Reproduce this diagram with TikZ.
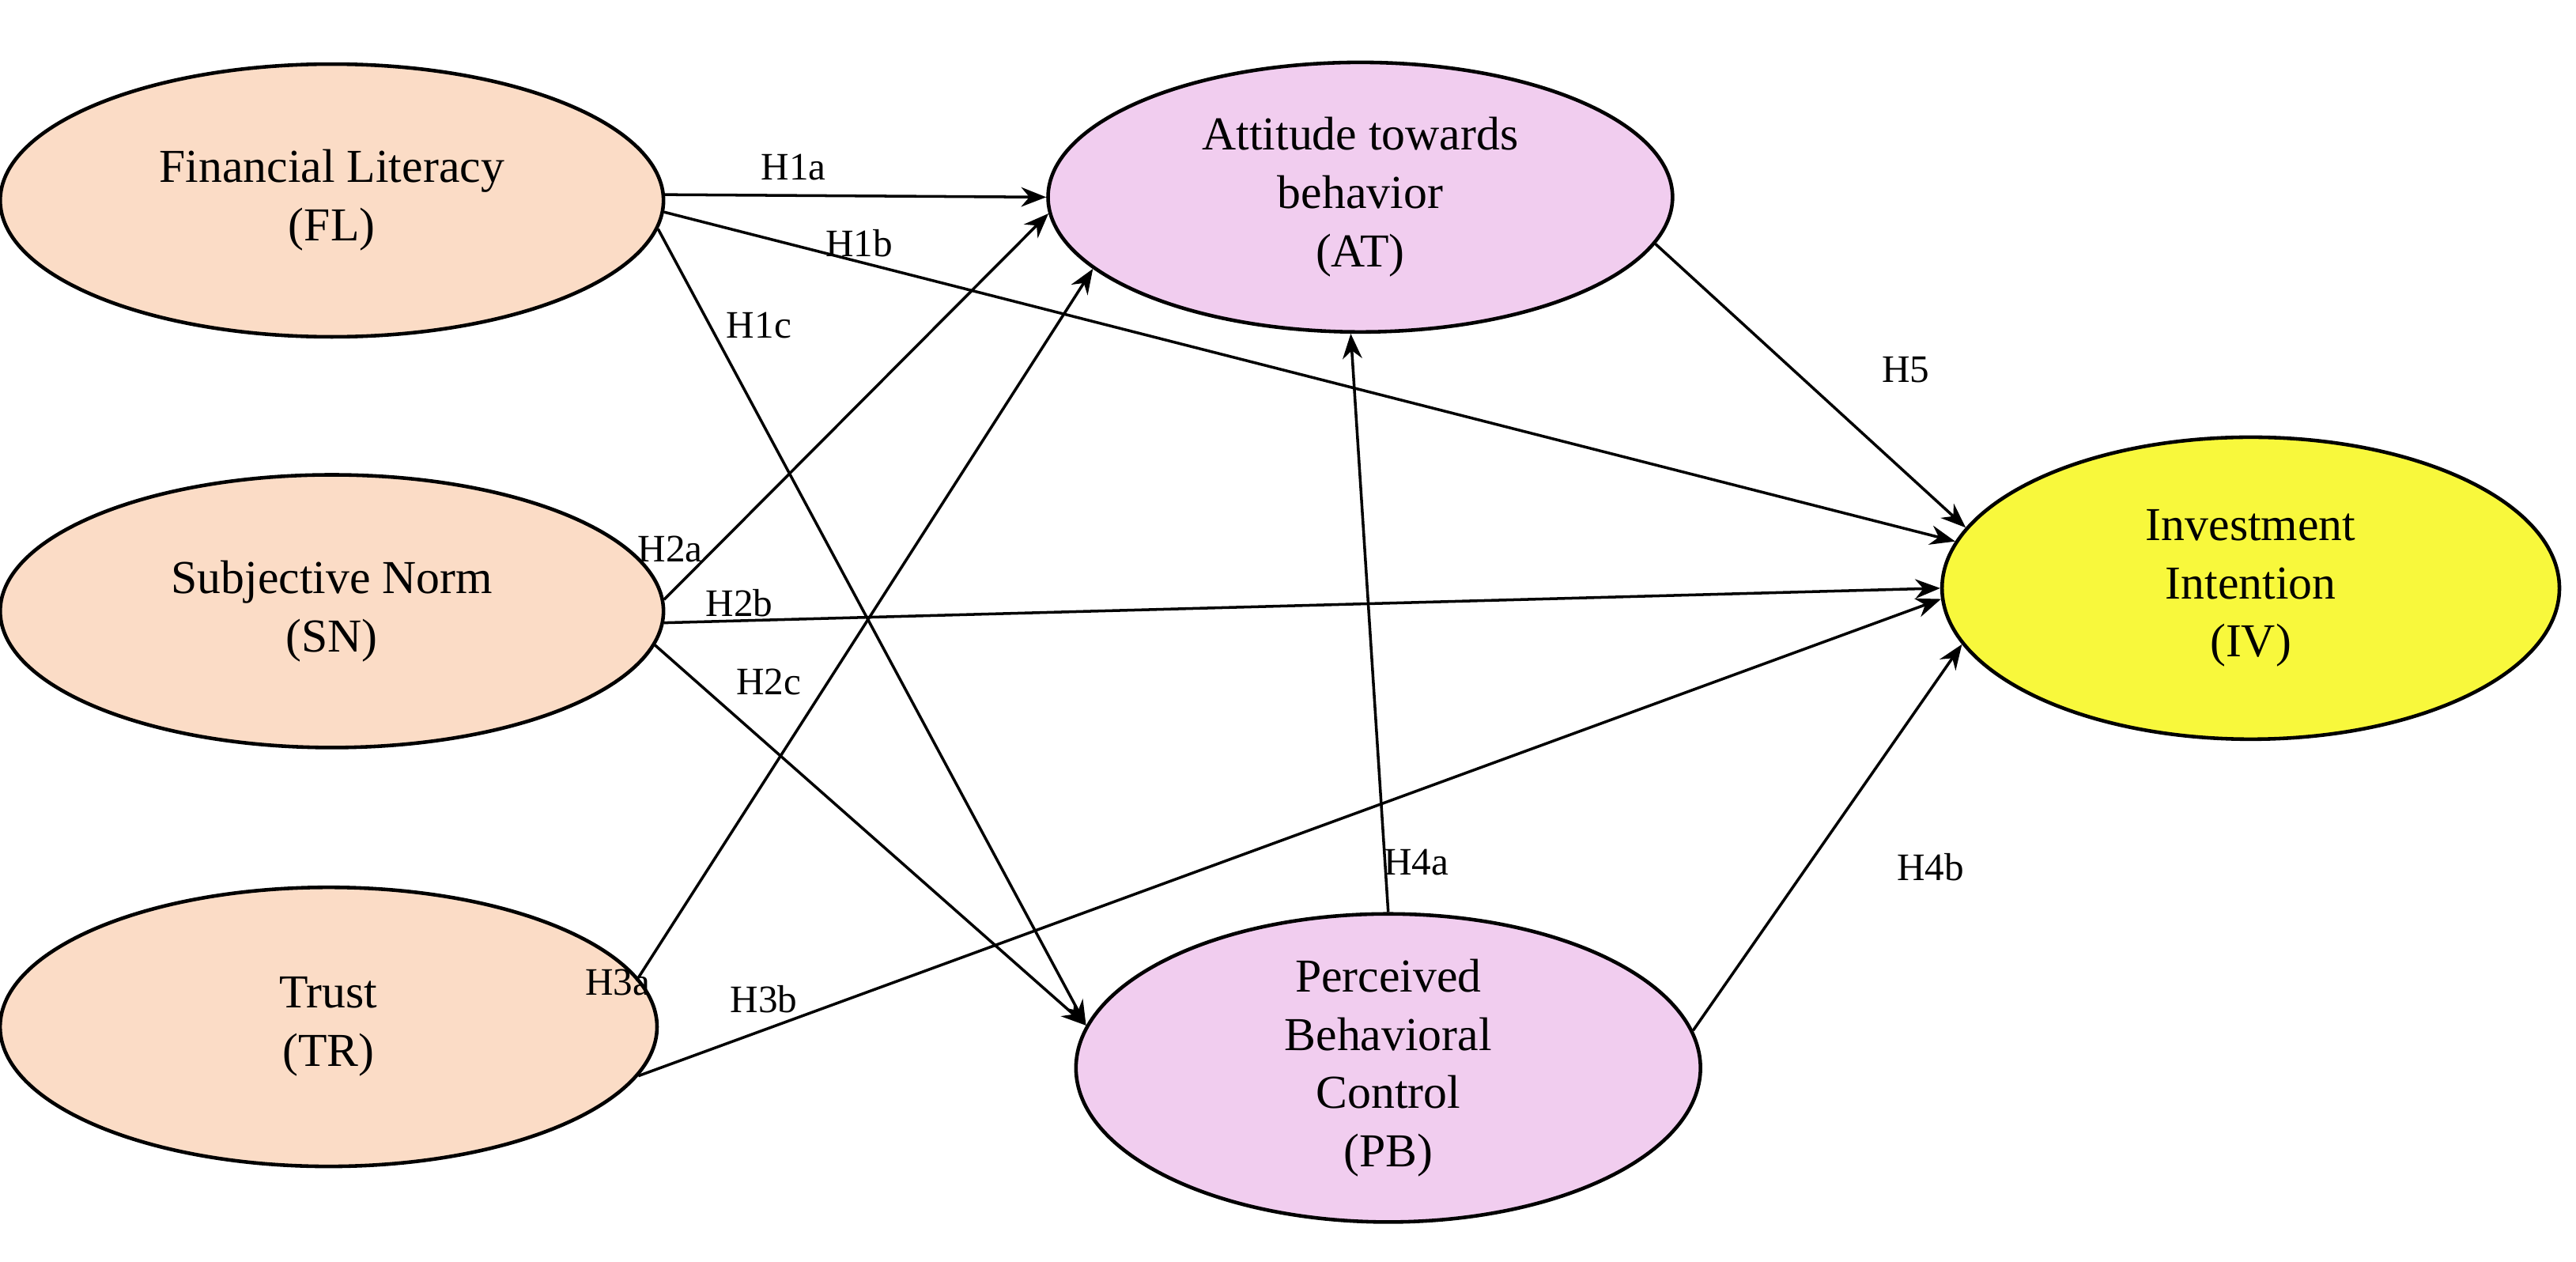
\documentclass[tikz,border=0pt]{standalone}
\usepackage{fontspec}
\setmainfont{Liberation Serif}
\usetikzlibrary{shapes.geometric,arrows.meta}
\definecolor{peach}{HTML}{FBDCC6}
\definecolor{pinkv}{HTML}{F1CDEF}
\definecolor{yel}{HTML}{F8F83C}
\tikzset{
 lv/.style={ellipse,draw=black,line width=1.3pt,inner sep=0pt,align=center,font=\fontsize{17}{21}\selectfont},
 arr/.style={-{Stealth[length=9pt,width=7pt]},line width=1pt},
 hl/.style={font=\fontsize{14}{16}\selectfont,inner sep=1pt}
}
\begin{document}
\begin{tikzpicture}[x=0.02078cm,y=-0.02078cm]
\useasboundingbox (0,0) rectangle (1568,768);
\node[lv,fill=peach,minimum width=8.39cm,minimum height=3.45cm] (FL) at (202,122) {Financial Literacy\\(FL)};
\node[lv,fill=peach,minimum width=8.39cm,minimum height=3.45cm] (SN) at (202,372) {Subjective Norm\\(SN)};
\node[lv,fill=peach,minimum width=8.31cm,minimum height=3.53cm] (TR) at (200,625) {Trust\\(TR)};
\node[lv,fill=pinkv,minimum width=7.9cm,minimum height=3.41cm] (AT) at (828,120) {Attitude towards\\behavior\\(AT)};
\node[lv,fill=pinkv,minimum width=7.9cm,minimum height=3.74cm] (PB) at (845,650) {Perceived\\Behavioral\\Control\\(PB)};
\node[lv,fill=yel,minimum width=7.81cm,minimum height=3.82cm] (IV) at (1370,358) {Investment\\Intention\\(IV)};
\draw[arr] (FL.1) -- (AT.180);
\draw[arr] (FL.-2) -- (IV.171);
\draw[arr] (FL.-5) -- (PB.172);
\draw[arr] (SN.2) -- (AT.183);
\draw[arr] (SN.-2) -- (IV.180);
\draw[arr] (SN.-6) -- (PB.172);
\draw[arr] (TR.9) -- (AT.195);
\draw[arr] (TR.-9) -- (IV.182);
\draw[arr] (PB.90) -- (AT.266);
\draw[arr] (PB.7) -- (IV.191);
\draw[arr] (AT.-9) -- (IV.168);
\node[hl] (l1a) at (483,102) {H1a};
\node[hl] (l1b) at (523,148) {H1b};
\node[hl] (l1c) at (462,198) {H1c};
\node[hl] (l2a) at (408,334) {H2a};
\node[hl] (l2b) at (450,367) {H2b};
\node[hl] (l2c) at (468,415) {H2c};
\node[hl] (l3a) at (376,598) {H3a};
\node[hl] (l3b) at (465,608) {H3b};
\node[hl] (l4a) at (862,525) {H4a};
\node[hl] (l4b) at (1175,528) {H4b};
\node[hl] (l5) at (1160,225) {H5};
\end{tikzpicture}
\end{document}
